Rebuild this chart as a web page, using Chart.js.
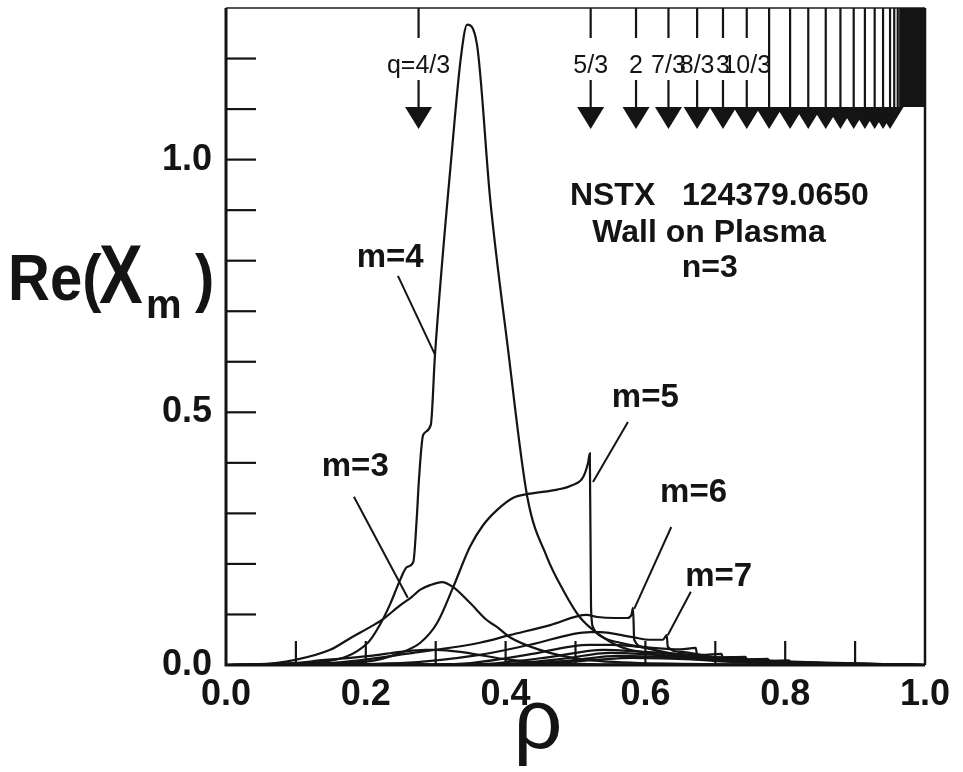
<!DOCTYPE html>
<html>
<head>
<meta charset="utf-8">
<script src="https://cdn.jsdelivr.net/npm/chart.js@4.4.0/dist/chart.umd.min.js"></script>
<style>
  body { margin: 0; background: #fff; }
  canvas { display: block; }
</style>
</head>
<body>
<canvas id="myChart" width="963" height="772"></canvas>
<script>
// Re(X_m) profiles vs rho
const m2Rho = [0, 0.08, 0.142, 0.206, 0.25, 0.285, 0.301, 0.34, 0.406, 0.47, 0.6, 1.0]
const m2Re = [0, 0.002, 0.010, 0.018, 0.026, 0.030, 0.030, 0.025, 0.010, 0.004, 0.001, 0]

const m3Rho = [0, 0.049, 0.099, 0.149, 0.18, 0.206, 0.223, 0.249, 0.266, 0.278, 0.292, 0.309, 0.325, 0.349, 0.373, 0.388, 0.406, 0.449, 0.506, 0.592, 1.0]
const m3Re = [0, 0.001, 0.010, 0.030, 0.055, 0.075, 0.089, 0.118, 0.135, 0.149, 0.158, 0.164, 0.154, 0.123, 0.089, 0.075, 0.055, 0.030, 0.012, 0.004, 0]

const m4Rho = [0, 0.10, 0.142, 0.203, 0.22, 0.235, 0.249, 0.259, 0.268, 0.273, 0.276, 0.282, 0.293, 0.299, 0.323, 0.336, 0.345, 0.359, 0.378, 0.403, 0.431, 0.459, 0.482, 0.506, 0.531, 0.564, 0.602, 0.678, 0.821, 1.0]
const m4Re = [0, 0.004, 0.007, 0.044, 0.079, 0.121, 0.168, 0.194, 0.204, 0.293, 0.366, 0.455, 0.475, 0.614, 1.014, 1.202, 1.267, 1.228, 0.921, 0.630, 0.333, 0.214, 0.149, 0.095, 0.063, 0.036, 0.024, 0.010, 0.002, 0]

const m5Rho = [0, 0.106, 0.203, 0.249, 0.278, 0.302, 0.325, 0.349, 0.368, 0.388, 0.411, 0.435, 0.474, 0.496, 0.511, 0.518, 0.5205, 0.5222, 0.525, 0.539, 0.564, 0.592, 0.65, 0.75, 0.893, 1.0]
const m5Re = [0, 0.002, 0.007, 0.024, 0.044, 0.083, 0.154, 0.234, 0.277, 0.307, 0.331, 0.339, 0.347, 0.356, 0.372, 0.400, 0.419, 0.115, 0.075, 0.055, 0.044, 0.036, 0.020, 0.008, 0.002, 0]

const m6Rho = [0, 0.149, 0.268, 0.363, 0.406, 0.464, 0.516, 0.531, 0.557, 0.574, 0.58, 0.5823, 0.584, 0.597, 0.621, 0.678, 0.821, 1.0]
const m6Re = [0, 0.004, 0.024, 0.044, 0.059, 0.079, 0.099, 0.095, 0.093, 0.093, 0.099, 0.113, 0.050, 0.036, 0.026, 0.014, 0.004, 0]

const m7Rho = [0, 0.249, 0.363, 0.435, 0.521, 0.535, 0.582, 0.607, 0.625, 0.6305, 0.632, 0.65, 0.707, 0.821, 1.0]
const m7Re = [0, 0.004, 0.020, 0.040, 0.065, 0.065, 0.055, 0.050, 0.050, 0.059, 0.036, 0.026, 0.014, 0.006, 0]

const m8Rho = [0, 0.30, 0.35, 0.43, 0.52, 0.55, 0.60, 0.65, 0.672, 0.674, 0.70, 0.80, 1.0]
const m8Re = [0, 0.001, 0.004, 0.020, 0.040, 0.040, 0.035, 0.031, 0.034, 0.020, 0.015, 0.005, 0]

const m9Rho = [0, 0.33, 0.38, 0.46, 0.54, 0.60, 0.68, 0.709, 0.711, 0.75, 0.85, 1.0]
const m9Re = [0, 0.001, 0.003, 0.015, 0.030, 0.026, 0.020, 0.022, 0.012, 0.009, 0.003, 0]

const m10Rho = [0, 0.35, 0.40, 0.48, 0.55, 0.62, 0.70, 0.743, 0.746, 0.80, 0.90, 1.0]
const m10Re = [0, 0.001, 0.002, 0.012, 0.024, 0.020, 0.015, 0.016, 0.009, 0.006, 0.002, 0]

const m11Rho = [0, 0.38, 0.42, 0.50, 0.56, 0.65, 0.74, 0.775, 0.778, 0.85, 1.0]
const m11Re = [0, 0.001, 0.002, 0.010, 0.018, 0.015, 0.011, 0.012, 0.007, 0.004, 0]

const m12Rho = [0, 0.40, 0.46, 0.53, 0.58, 0.68, 0.78, 0.805, 0.808, 0.88, 1.0]
const m12Re = [0, 0.001, 0.003, 0.010, 0.014, 0.011, 0.008, 0.009, 0.005, 0.003, 0]

// rational surfaces (arrows along the top)
const qRho = [0.2755, 0.5217, 0.5866, 0.633, 0.674, 0.711, 0.745, 0.777, 0.807, 0.833, 0.858, 0.879, 0.898, 0.914, 0.928, 0.940, 0.950, 0.956, 0.961]
const qLabels = ['q=4/3', '5/3', '2', '7/3', '8/3', '3', '10/3']
const denseFrom = 0.963

const xTickLabels = ['0.0', '0.2', '0.4', '0.6', '0.8', '1.0']
const yTickLabels = ['0.0', '0.5', '1.0']

const FONT = "'Liberation Sans', Arial, Helvetica, sans-serif"
const INK = '#141414'

const curves = [
    [m2Rho, m2Re], [m3Rho, m3Re], [m4Rho, m4Re], [m5Rho, m5Re], [m6Rho, m6Re],
    [m7Rho, m7Re], [m8Rho, m8Re], [m9Rho, m9Re], [m10Rho, m10Re], [m11Rho, m11Re], [m12Rho, m12Re]
]
const datasets = curves.map(([r, v], i) => ({
    label: 'm=' + (i + 2),
    data: r.map((x, k) => ({ x: x, y: v[k] })),
    showLine: true,
    borderColor: INK,
    borderWidth: 2.2,
    pointRadius: 0,
    cubicInterpolationMode: 'monotone'
}))

// curve labels with leader lines (rho, value)
const curveNotes = [
    { text: 'm=4', at: [0.187, 0.788], lead: [0.246, 0.770, 0.299, 0.614] },
    { text: 'm=3', at: [0.137, 0.374], lead: [0.183, 0.333, 0.260, 0.133] },
    { text: 'm=5', at: [0.552, 0.511], lead: [0.575, 0.481, 0.525, 0.362] },
    { text: 'm=6', at: [0.621, 0.323], lead: [0.637, 0.273, 0.584, 0.111] },
    { text: 'm=7', at: [0.657, 0.156], lead: [0.665, 0.145, 0.632, 0.059] }
]
const infoNotes = [
    { text: 'NSTX   124379.0650', at: [0.492, 0.911] },
    { text: 'Wall on Plasma', at: [0.524, 0.836] },
    { text: 'n=3', at: [0.652, 0.768] }
]

function stretchText(ctx, txt, x, y, font, sx, sy) {
    ctx.save()
    ctx.translate(x, y)
    ctx.scale(sx, sy)
    ctx.font = font
    ctx.fillText(txt, 0, 0)
    ctx.restore()
}

const decor = {
    id: 'decor',
    afterDraw(chart) {
        const { ctx, chartArea: a, scales: { x, y } } = chart
        ctx.save()
        ctx.strokeStyle = INK
        ctx.fillStyle = INK

        // inward ticks
        ctx.lineWidth = 2.2
        for (let k = 1; k <= 9; k++) {
            const px = x.getPixelForValue(k / 10)
            ctx.beginPath(); ctx.moveTo(px, a.bottom); ctx.lineTo(px, a.bottom - 24); ctx.stroke()
        }
        for (let k = 1; k <= 12; k++) {
            const py = y.getPixelForValue(k / 10)
            ctx.beginPath(); ctx.moveTo(a.left, py); ctx.lineTo(a.left + 30, py); ctx.stroke()
        }

        // frame
        ctx.lineWidth = 2
        ctx.strokeStyle = '#555'
        ctx.beginPath(); ctx.moveTo(a.left, a.top); ctx.lineTo(a.right, a.top); ctx.stroke()
        ctx.strokeStyle = INK
        ctx.lineWidth = 2.5
        ctx.beginPath(); ctx.moveTo(a.right, a.top); ctx.lineTo(a.right, a.bottom); ctx.stroke()
        ctx.lineWidth = 3
        ctx.beginPath(); ctx.moveTo(a.left, a.top); ctx.lineTo(a.left, a.bottom); ctx.lineTo(a.right, a.bottom); ctx.stroke()

        // rational surface arrows
        const triTop = a.top + 99, triH = 22, triW = 13.5
        ctx.lineWidth = 2.2
        ctx.font = '25px ' + FONT
        ctx.textAlign = 'center'
        qRho.forEach((r, i) => {
            const px = x.getPixelForValue(r)
            ctx.beginPath()
            if (qLabels[i]) {
                ctx.moveTo(px, a.top); ctx.lineTo(px, a.top + 30)
                ctx.moveTo(px, a.top + 72); ctx.lineTo(px, triTop + 2)
                ctx.fillText(qLabels[i], px, a.top + 65)
            } else {
                ctx.moveTo(px, a.top); ctx.lineTo(px, triTop + 2)
            }
            ctx.stroke()
            if (i < 17) {
                ctx.beginPath()
                ctx.moveTo(px - triW, triTop); ctx.lineTo(px + triW, triTop); ctx.lineTo(px, triTop + triH)
                ctx.closePath(); ctx.fill()
            }
        })
        const bx = x.getPixelForValue(denseFrom)
        ctx.fillRect(bx, a.top, a.right - bx, triTop - a.top)

        // curve labels
        ctx.textAlign = 'left'
        ctx.font = 'bold 33px ' + FONT
        ctx.lineWidth = 2
        curveNotes.forEach(n => {
            ctx.fillText(n.text, x.getPixelForValue(n.at[0]), y.getPixelForValue(n.at[1]))
            ctx.beginPath()
            ctx.moveTo(x.getPixelForValue(n.lead[0]), y.getPixelForValue(n.lead[1]))
            ctx.lineTo(x.getPixelForValue(n.lead[2]), y.getPixelForValue(n.lead[3]))
            ctx.stroke()
        })
        ctx.font = 'bold 32px ' + FONT
        infoNotes.forEach(n => {
            ctx.fillText(n.text, x.getPixelForValue(n.at[0]), y.getPixelForValue(n.at[1]))
        })

        // axis titles
        ctx.font = '86px ' + FONT
        ctx.textAlign = 'center'
        ctx.fillText('ρ', 538, 748)
        ctx.textAlign = 'left'
        stretchText(ctx, 'Re(', 8, 300, 'bold 58px ' + FONT, 1, 1.12)
        stretchText(ctx, 'X', 99, 303, 'bold 84px ' + FONT, 0.78, 1)
        stretchText(ctx, 'm', 146, 318, 'bold 40px ' + FONT, 1, 1)
        stretchText(ctx, ')', 195, 300, 'bold 58px ' + FONT, 1, 1.12)
        ctx.restore()
    }
}

const ctx = document.getElementById('myChart')
new Chart(ctx, {
    type: 'scatter',
    data: { datasets: datasets },
    options: {
        responsive: false,
        animation: false,
        devicePixelRatio: 1,
        layout: { padding: { top: 8, right: 38, left: 0, bottom: 0 } },
        plugins: { legend: { display: false }, tooltip: { enabled: false } },
        scales: {
            x: {
                type: 'linear', min: 0, max: 1,
                grid: { display: false, drawTicks: false }, border: { display: false },
                ticks: {
                    stepSize: 0.1, autoSkip: false, maxRotation: 0, padding: 8, color: INK,
                    font: { family: FONT, size: 36, weight: 'bold' },
                    callback: v => xTickLabels.includes(v.toFixed(1)) ? v.toFixed(1) : ''
                },
                afterFit: s => { s.height = 107; s.paddingLeft = 0; s.paddingRight = 0 }
            },
            y: {
                type: 'linear', min: 0, max: 1.3,
                grid: { display: false, drawTicks: false }, border: { display: false },
                ticks: {
                    stepSize: 0.1, autoSkip: false, padding: 14, color: INK,
                    font: { family: FONT, size: 36, weight: 'bold' },
                    callback: v => yTickLabels.includes(v.toFixed(1)) ? v.toFixed(1) : ''
                },
                afterFit: s => { s.width = 226; s.paddingTop = 0; s.paddingBottom = 0 }
            }
        }
    },
    plugins: [decor]
})
</script>
</body>
</html>
